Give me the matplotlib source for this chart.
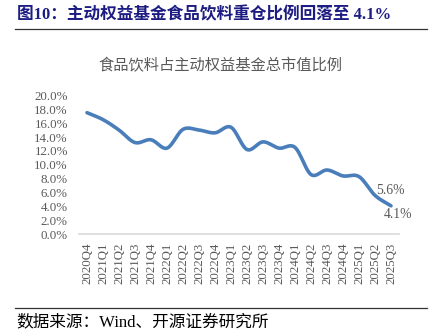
import numpy as np
import matplotlib
matplotlib.use("Agg")
import matplotlib.pyplot as plt
from matplotlib.lines import Line2D

quarters = ["2020Q4", "2021Q1", "2021Q2", "2021Q3", "2021Q4", "2022Q1", "2022Q2",
            "2022Q3", "2022Q4", "2023Q1", "2023Q2", "2023Q3", "2023Q4", "2024Q1",
            "2024Q2", "2024Q3", "2024Q4", "2025Q1", "2025Q2", "2025Q3"]
share = [17.5, 16.5, 15.0, 13.2, 13.6, 12.4, 15.1, 15.0, 14.6, 15.4,
         12.2, 13.3, 12.4, 12.5, 8.6, 9.25, 8.4, 8.3, 5.6, 4.1]
yticks = [0, 2, 4, 6, 8, 10, 12, 14, 16, 18, 20]

title = "图10：主动权益基金食品饮料重仓比例回落至 4.1%"
subtitle = "食品饮料占主动权益基金总市值比例"
source = "数据来源：Wind、开源证券研究所"

SERIF = ["Liberation Serif", "Noto Sans CJK SC", "DejaVu Sans"]
GRAY = "#595959"


def smooth(xs, ys, n=20):
    # Catmull-Rom rendering (like Excel "smoothed line")
    xs = np.asarray(xs, float)
    ys = np.asarray(ys, float)
    px = np.concatenate([[2 * xs[0] - xs[1]], xs, [2 * xs[-1] - xs[-2]]])
    py = np.concatenate([[2 * ys[0] - ys[1]], ys, [2 * ys[-1] - ys[-2]]])
    ox, oy = [], []
    t = np.linspace(0, 1, n, endpoint=False)
    for i in range(1, len(px) - 2):
        for arr, out in ((px, ox), (py, oy)):
            p0, p1, p2, p3 = arr[i - 1], arr[i], arr[i + 1], arr[i + 2]
            v = 0.5 * ((2 * p1) + (-p0 + p2) * t + (2 * p0 - 5 * p1 + 4 * p2 - p3) * t ** 2
                       + (-p0 + 3 * p1 - 3 * p2 + p3) * t ** 3)
            out.extend(v)
    ox.append(xs[-1])
    oy.append(ys[-1])
    return np.array(ox), np.array(oy)


fig = plt.figure(figsize=(4.35, 3.36), dpi=100)
W, H = 435, 336

ax = fig.add_axes([79 / W, 1 - 234.3 / H, 320 / W, 139 / H])
x = np.arange(len(quarters))
sx, sy = smooth(x, share)
ax.plot(sx, sy, color="#4A7EBB", lw=2.6, solid_capstyle="round")

ax.set_xlim(-0.5, len(quarters) - 0.5)
ax.set_ylim(0, 20)
ax.set_yticks(yticks)
ax.set_yticklabels([f"{v:.1f}%" for v in yticks], family=SERIF, fontsize=9.3, color=GRAY)
ax.set_xticks(x)
ax.set_xticklabels(quarters, rotation=90, family=SERIF, fontsize=9.3, color=GRAY)
ax.tick_params(axis="x", length=0, pad=6)
ax.tick_params(axis="y", length=0, pad=8)
for s in ["top", "right", "left"]:
    ax.spines[s].set_visible(False)
ax.spines["bottom"].set_color("#D9D9D9")
ax.spines["bottom"].set_linewidth(1.2)

ax.annotate(f"{share[-2]:.1f}%", (x[-2], share[-2]), xytext=(11, 3.5), textcoords="offset points",
            ha="center", va="center", family=SERIF, fontsize=9.8, color=GRAY)
ax.annotate(f"{share[-1]:.1f}%", (x[-1], share[-1]), xytext=(5, -6), textcoords="offset points",
            ha="center", va="center", family=SERIF, fontsize=9.8, color=GRAY)

fig.text(17 / W, 1 - 15 / H, title, family=SERIF, fontsize=12, fontweight="bold",
         color="#1C1C82", ha="left", va="center")
fig.add_artist(Line2D([15 / W, 427 / W], [1 - 29 / H, 1 - 29 / H], color="#333333", lw=0.9))
fig.text(220 / W, 1 - 66 / H, subtitle, family=SERIF, fontsize=11, color=GRAY,
         fontweight="light", ha="center", va="center")
fig.add_artist(Line2D([15 / W, 427 / W], [1 - 307.5 / H, 1 - 307.5 / H], color="#333333", lw=0.9))
fig.text(16 / W, 1 - 322 / H, source, family=SERIF, fontsize=12, color="black",
         ha="left", va="center")

fig.savefig("out.png", dpi=100)
